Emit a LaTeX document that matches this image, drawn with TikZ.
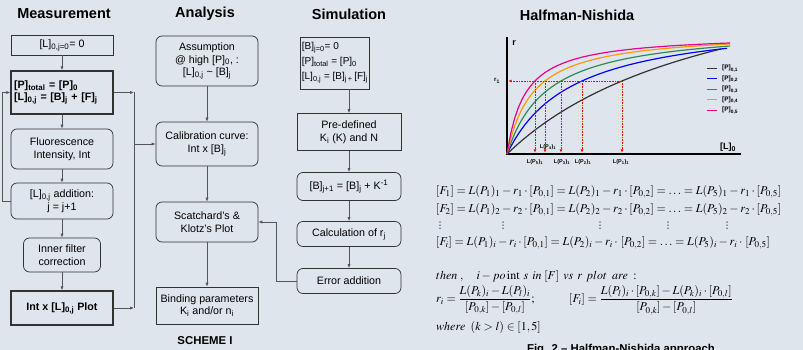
\documentclass[tikz,border=0pt]{standalone}
\usepackage{amsmath}
\usepackage[no-math]{fontspec}
\usepackage{mathptmx}
\setmainfont{Liberation Sans}
\newfontfamily\symfont{DejaVu Sans}
\usetikzlibrary{arrows.meta}
\definecolor{bgpanel}{RGB}{223,229,237}
\definecolor{boxline}{RGB}{50,50,50}
\definecolor{linkgray}{RGB}{85,85,85}
\definecolor{curvegreen}{RGB}{46,139,87}
\definecolor{curveorange}{RGB}{255,153,0}
\begin{document}
\begin{tikzpicture}[x=1pt, y=-1pt,
    >={Latex[length=4pt,width=3.2pt]},
    every node/.style={font=\fontsize{10.7}{12.6}\selectfont, inner sep=1pt},
    title/.style={font=\fontsize{14.5}{17}\selectfont\bfseries},
    sqbox/.style={draw=boxline, line width=0.7pt, align=center, minimum width=102pt},
    rdbox/.style={sqbox, rounded corners=6pt},
    heavybox/.style={sqbox, line width=1.4pt, font=\fontsize{10.7}{12.6}\selectfont\bfseries},
    link/.style={draw=linkgray, line width=0.7pt},
    guide/.style={red, densely dotted, line width=0.6pt, >={Latex[length=3pt,width=3pt]}},
    axlab/.style={font=\fontsize{5.5}{6}\selectfont\bfseries, inner sep=0pt},
    eqn/.style={anchor=west, inner sep=0pt, font=\fontsize{12}{14}\selectfont},
    ]

% Background
\useasboundingbox (0,0) rectangle (803,350);
\fill[bgpanel] (0,0) rectangle (803,350);

% Titles
\node[title] (tmeas) at (64,14) {Measurement};
\node[title] (tana) at (205,14) {Analysis};
\node[title] (tsim) at (349,14) {Simulation};
\node[title] (thn) at (577,15) {Halfman-Nishida};

% Measurement column
\node[sqbox, minimum height=20pt] (m1) at (62,45) {[L]\textsubscript{0,j=0}= 0};
\node[heavybox, minimum height=43pt, text width=96pt, align=left] (m2) at (62,92.5)
    {[P]\textsubscript{total} = [P]\textsubscript{0}\\{}[L]\textsubscript{0,j} = [B]\textsubscript{j} + [F]\textsubscript{j}};
\node[rdbox, minimum height=40pt] (m3) at (62,149) {Fluorescence\\Intensity, Int};
\node[rdbox, minimum height=36pt] (m4) at (62,201) {[L]\textsubscript{0,j} addition:\\j = j+1};
\node[rdbox, minimum width=77pt, minimum height=34pt] (m5) at (62,255) {Inner filter\\correction};
\node[heavybox, minimum height=34pt] (m6) at (62,308) {Int x [L]\textsubscript{0,j} Plot};

% Analysis column
\node[rdbox, minimum height=50pt] (a1) at (207,61) {Assumption\\@ high [P]\textsubscript{0}, :\\{}[L]\textsubscript{0,j} \textasciitilde{} [B]\textsubscript{j}};
\node[rdbox, minimum height=44pt] (a2) at (207,144) {Calibration curve:\\Int x [B]\textsubscript{j}};
\node[rdbox, minimum height=40pt] (a3) at (207,222) {Scatchard's \&\\Klotz's Plot};
\node[sqbox, minimum height=37pt] (a4) at (207,305.5) {Binding parameters\\K\textsubscript{i} and/or n\textsubscript{i}};
\node[font=\fontsize{11.4}{13}\selectfont\bfseries] (scheme) at (205,341) {SCHEME I};

% Simulation column
\node[sqbox, minimum width=58pt, minimum height=52pt, align=left, inner xsep=1.5pt,
    font=\fontsize{10}{15}\selectfont] (s1) at (335,63)
    {[B]\textsubscript{j=0}= 0\\{}[P]\textsubscript{total} = [P]\textsubscript{0}\\{}[L]\textsubscript{0,j} = [B]\textsubscript{j\,+}\,[F]\textsubscript{j}};
\node[sqbox, minimum width=104pt, minimum height=37pt] (s2) at (349,132) {Pre-defined\\K\textsubscript{i} (K) and N};
\node[rdbox, minimum width=104pt, minimum height=28pt] (s3) at (349,186.5) {[B]\textsubscript{j+1} = [B]\textsubscript{j} + K\textsuperscript{-1}};
\node[rdbox, minimum width=104pt, minimum height=25pt] (s4) at (349,234) {Calculation of r\textsubscript{j}};
\node[rdbox, minimum width=104pt, minimum height=25pt] (s5) at (349,281) {Error addition};

% Connectors
\foreach \a/\b in {m1/m2, m2/m3, m3/m4, m4/m5, m5/m6, a1/a2, a2/a3, a3/a4, s2/s3, s3/s4, s4/s5}
    \draw[link,->] (\a.south) -- (\b.north);
\draw[link,->] (s2.north |- s1.south) -- (s2.north);
\draw[link,->] (m4.west) -- ++(-8,0) |- (m2.west);
\coordinate (bus) at (134,0);
\draw[link,->] (m2.east) -- (m2.east -| bus);
\draw[link,->] (m6.east) -- (m6.east -| bus);
\draw[link] (m2.east -| bus) -- (m6.east -| bus);
\draw[link,->] (a2.west -| bus) -- (a2.west);
\draw[link,->] (s5.west) -- ++(-20,0) |- (a3.east);

% Axes
\draw[line width=1.5pt] (507,37) -- (507,154) -- (741,154);
\node[font=\fontsize{9}{10}\selectfont\bfseries, inner sep=0pt] (rlab) at (514,43) {r};
\node[font=\fontsize{9}{10}\selectfont\bfseries, inner sep=0pt] (llab) at (728,147) {[L]\textsubscript{0}};

% Curves
\foreach \A/\K/\e/\col in {214/222/214/black!80, 137.5/66.2/220/blue, 127.5/40.3/223/curvegreen,
        122.8/25.9/223/curveorange, 120/18/223/magenta}
    \draw[\col, line width=1.2pt] plot[domain=0:\e, samples=60] ({507+\x}, {154-\A/(\K+\x)*\x});

% Guides from r_1
\draw[guide,->] (622,81) -- (508.5,81);
\foreach \xv in {535,545,561,582,622}
    \draw[guide,->] (\xv,81) -- (\xv,152.5);
\node[font=\fontsize{6}{7}\selectfont\bfseries, inner sep=0pt] (r1) at (497,81) {r\textsubscript{1}};
\node[axlab] (lp5) at (535,162) {L(P\textsubscript{5})\textsubscript{1}};
\node[axlab] (lp4) at (548,147) {L(P\textsubscript{4})\textsubscript{1}};
\node[axlab] (lp3) at (562,162) {L(P\textsubscript{3})\textsubscript{1}};
\node[axlab] (lp2) at (583,162) {L(P\textsubscript{2})\textsubscript{1}};
\node[axlab] (lp1) at (621,162) {L(P\textsubscript{1})\textsubscript{1}};

% Legend
\foreach \n/\col in {1/black!80, 2/blue, 3/curvegreen, 4/curveorange, 5/magenta} {
    \draw[\col, line width=1pt] (707,58+10.5*\n) -- (717,58+10.5*\n);
    \node[font=\fontsize{6.5}{7}\selectfont\bfseries, anchor=west, inner sep=0pt] (leg\n) at (722,58+10.5*\n)
        {[P]\textsubscript{0,\n}};
}

% Equations
\node[eqn] (eq1) at (436,192) {$[F_1] = L(P_1)_1 - r_1\cdot[P_{0,1}] = L(P_2)_1 - r_1\cdot[P_{0,2}] = \ldots = L(P_5)_1 - r_1\cdot[P_{0,5}]$};
\node[eqn] (eq2) at (436,210) {$[F_2] = L(P_1)_2 - r_2\cdot[P_{0,1}] = L(P_2)_2 - r_2\cdot[P_{0,2}] = \ldots = L(P_5)_2 - r_2\cdot[P_{0,5}]$};
\foreach \xv in {440,503,600,668,727}
    \node[inner sep=0pt, font=\symfont\fontsize{9}{10}\selectfont] (vd\xv) at (\xv,226) {⋮};
\node[eqn] (eq3) at (436,243) {$[F_i] = L(P_1)_i - r_i\cdot[P_{0,1}] = L(P_2)_i - r_i\cdot\,[P_{0,2}] = \ldots = L(P_5)_i - r_i\cdot\,[P_{0,5}]$};
\node[eqn] (then) at (436,276) {$then\;,\quad i - po\,\mathrm{int}\;\,s\;\,in\;[F]\;\,vs\;\,r\;\,plot\;\;are\;:$};
\node[eqn] (fr) at (436,300) {$r_i = \dfrac{L(P_k)_i - L(P_l)_i}{[P_{0,k}]-[P_{0,l}]};$};
\node[eqn] (ff) at (569,300) {$[F_i] = \dfrac{L(P_l)_i\cdot[P_{0,k}] - L(P_k)_i\cdot[P_{0,l}]}{[P_{0,k}]-[P_{0,l}]}$};
\node[eqn] (where) at (436,327) {$where\;\;(k>l)\in[1,5]$};
\node[font=\fontsize{11.4}{13}\selectfont\bfseries] (fig) at (621,350) {Fig. 2 -- Halfman-Nishida approach};

\end{tikzpicture}
\end{document}
